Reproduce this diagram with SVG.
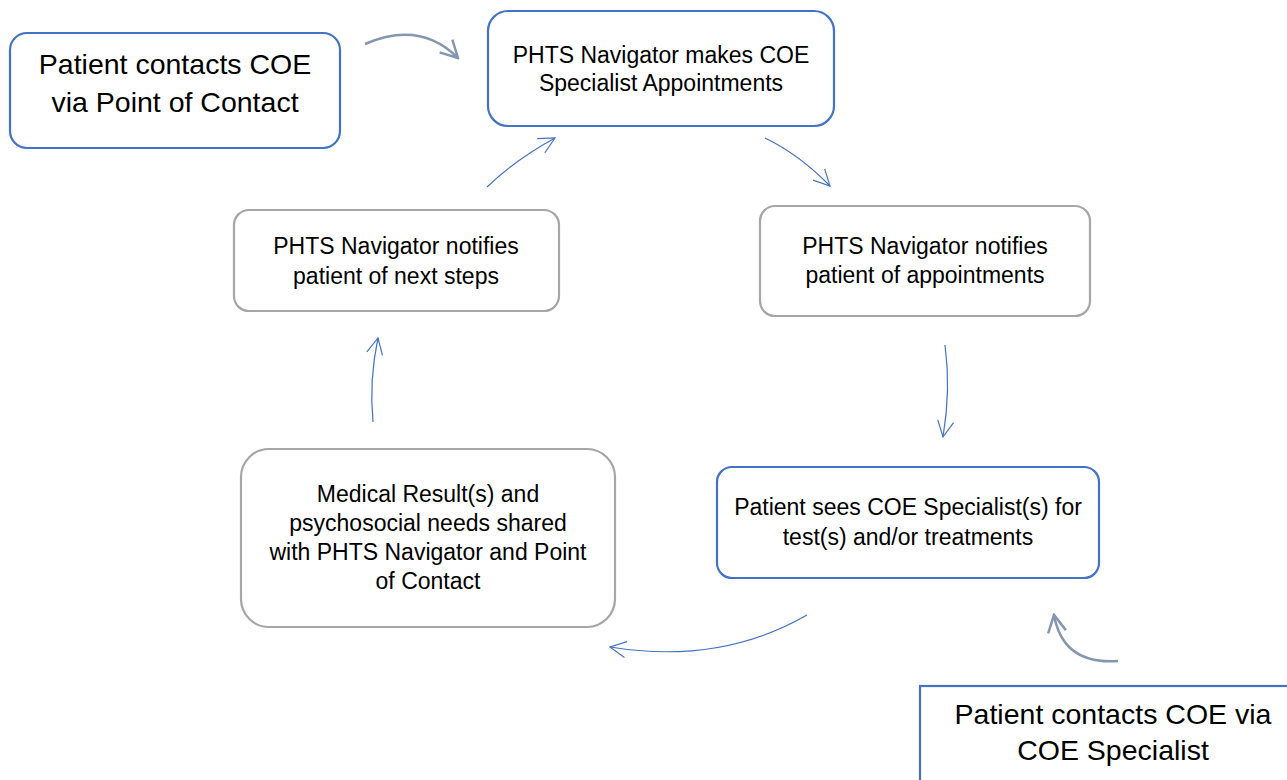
<svg xmlns="http://www.w3.org/2000/svg" width="1287" height="780" viewBox="0 0 1287 780">
<style>
.blue{fill:#fff;stroke:#4472C4;stroke-width:2.2}
.gray{fill:#fff;stroke:#A6A6A6;stroke-width:2.2}
text{font-family:"Liberation Sans",Arial,sans-serif;fill:#000;text-anchor:middle}
.s{font-size:23px}
.l{font-size:28.5px}
.c{fill:none;stroke:#4472C4;stroke-width:1.2}
.t{fill:none;stroke:#8497B0;stroke-width:2.5}
</style>
<defs>
<marker id="ah" viewBox="0 0 20 20" refX="18" refY="10" markerWidth="20" markerHeight="20" markerUnits="userSpaceOnUse" orient="auto">
<path d="M2,2 L18,10 L2,18" fill="none" stroke="#4472C4" stroke-width="1.2"/>
</marker>
<marker id="ahT" viewBox="0 0 22 22" refX="20" refY="11" markerWidth="22" markerHeight="22" markerUnits="userSpaceOnUse" orient="auto">
<path d="M3,2 L20,11 L3,20" fill="none" stroke="#8497B0" stroke-width="2.5"/>
</marker>
</defs>
<g id="connectors">
<path class="t" d="M365,44 Q420,20 458,58" marker-end="url(#ahT)"/>
<path class="c" d="M487,187 Q515,160 555,138" marker-end="url(#ah)"/>
<path class="c" d="M765,138 Q800,155 830,186" marker-end="url(#ah)"/>
<path class="c" d="M945,345 Q951,390 943,437" marker-end="url(#ah)"/>
<path class="c" d="M807,615 Q720,665 610,647" marker-end="url(#ah)"/>
<path class="c" d="M373,422 Q369,380 378,338" marker-end="url(#ah)"/>
<path class="t" d="M1118,661 Q1063,665 1054,615" marker-end="url(#ahT)"/>
</g>
<g id="node-poc">
<rect class="blue" x="10" y="33" width="330" height="115" rx="17"/>
<text class="l" x="175" y="74">Patient contacts COE</text>
<text class="l" x="175" y="112">via Point of Contact</text>
</g>
<g id="node-makes">
<rect class="blue" x="488" y="11" width="346" height="115" rx="20"/>
<text class="s" x="661" y="63">PHTS Navigator makes COE</text>
<text class="s" x="661" y="91">Specialist Appointments</text>
</g>
<g id="node-notify-appt">
<rect class="gray" x="760" y="206" width="330" height="110" rx="15"/>
<text class="s" x="925" y="254">PHTS Navigator notifies</text>
<text class="s" x="925" y="283">patient of appointments</text>
</g>
<g id="node-sees">
<rect class="blue" x="717" y="467" width="382" height="111" rx="15"/>
<text class="s" x="908" y="515">Patient sees COE Specialist(s) for</text>
<text class="s" x="908" y="545">test(s) and/or treatments</text>
</g>
<g id="node-results">
<rect class="gray" x="241" y="449" width="374" height="178" rx="28"/>
<text class="s" x="428" y="502">Medical Result(s) and</text>
<text class="s" x="428" y="531">psychosocial needs shared</text>
<text class="s" x="428" y="560">with PHTS Navigator and Point</text>
<text class="s" x="428" y="589">of Contact</text>
</g>
<g id="node-notify-next">
<rect class="gray" x="234" y="210" width="325" height="101" rx="15"/>
<text class="s" x="396" y="254">PHTS Navigator notifies</text>
<text class="s" x="396" y="284">patient of next steps</text>
</g>
<g id="node-specialist">
<rect class="blue" x="920" y="686" width="380" height="110" rx="0"/>
<text class="l" x="1113" y="724">Patient contacts COE via</text>
<text class="l" x="1113" y="760">COE Specialist</text>
</g>
</svg>
